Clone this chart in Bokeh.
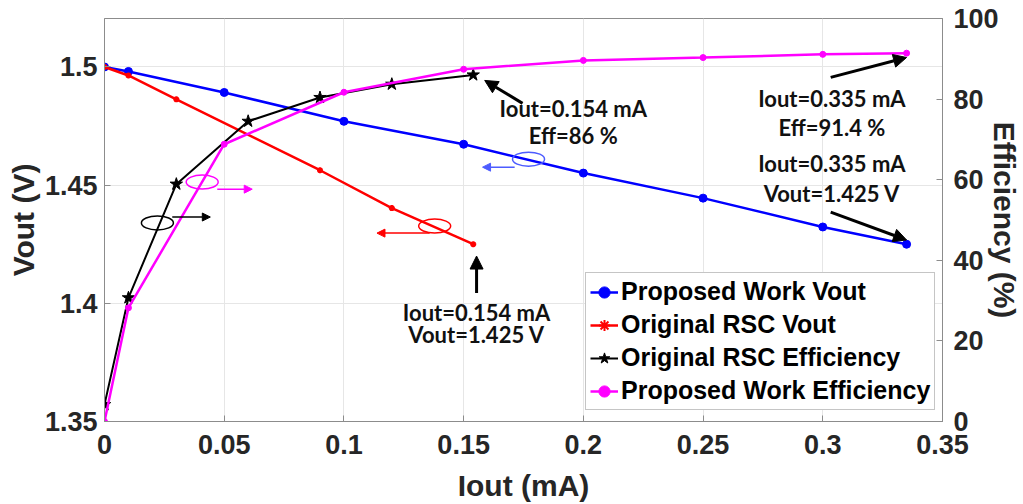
from bokeh.plotting import figure
from bokeh.models import Range1d, LinearAxis, FixedTicker, Arrow, NormalHead, Label
from bokeh.embed import file_html
from bokeh.resources import INLINE

# ---- data ----
iout_prop = [0, 0.01, 0.05, 0.1, 0.15, 0.2, 0.25, 0.3, 0.335]
vout_prop = [1.5, 1.4981, 1.4892, 1.4770, 1.4673, 1.4551, 1.4445, 1.4323, 1.425]
eff_prop = [0.0, 28.2, 68.8, 81.7, 87.4, 89.6, 90.3, 91.1, 91.4]

iout_orig_v = [0, 0.01, 0.03, 0.09, 0.12, 0.154]
vout_orig = [1.5, 1.4964, 1.4863, 1.4563, 1.4403, 1.425]

iout_orig_e = [0, 0.01, 0.03, 0.06, 0.09, 0.12, 0.154]
eff_orig = [4.2, 30.7, 58.9, 74.5, 80.4, 83.7, 86.0]

x_ticks = [0, 0.05, 0.1, 0.15, 0.2, 0.25, 0.3, 0.35]
x_tick_labels = ["0", "0.05", "0.1", "0.15", "0.2", "0.25", "0.3", "0.35"]
v_ticks = [1.35, 1.4, 1.45, 1.5]
v_tick_labels = ["1.35", "1.4", "1.45", "1.5"]
e_ticks = [0, 20, 40, 60, 80, 100]

labels = ["Proposed Work Vout", "Original RSC Vout",
          "Original RSC Efficiency", "Proposed Work Efficiency"]

AXIS_FONT = "Liberation Sans"
ANN_FONT = "Lato"
GREY = "#8c8c8c"
TXT = "#262626"

p = figure(width=1023, height=504, output_backend="svg", toolbar_location=None,
           x_range=Range1d(0, 0.35), y_range=Range1d(1.35, 1.5205),
           min_border_left=104, min_border_right=80, min_border_top=18, min_border_bottom=82)
p.extra_y_ranges = {"eff": Range1d(0, 100)}

p.outline_line_color = GREY
p.outline_line_width = 1
p.background_fill_color = "white"

def style_axis(ax, ticks, overrides=None):
    ax.ticker = FixedTicker(ticks=ticks)
    if overrides:
        ax.major_label_overrides = overrides
    ax.minor_tick_line_color = None
    ax.major_tick_in = 6
    ax.major_tick_out = 0
    ax.axis_line_color = GREY
    ax.major_tick_line_color = GREY
    ax.major_label_text_font = AXIS_FONT
    ax.major_label_text_font_style = "bold"
    ax.major_label_text_font_size = "27px"
    ax.major_label_text_color = TXT
    ax.axis_label_text_font = AXIS_FONT
    ax.axis_label_text_font_style = "bold"
    ax.axis_label_text_font_size = "30px"
    ax.axis_label_text_color = TXT

xa = p.xaxis[0]
style_axis(xa, x_ticks, {t: l for t, l in zip(x_ticks, x_tick_labels)})
xa.axis_label = "Iout (mA)"
xa.major_label_standoff = 13
xa.axis_label_standoff = 12

ya = p.yaxis[0]
style_axis(ya, v_ticks, {t: l for t, l in zip(v_ticks, v_tick_labels)})
ya.axis_label = "Vout (V)"
ya.major_label_standoff = 7
ya.axis_label_standoff = 2

ra = LinearAxis(y_range_name="eff")
style_axis(ra, e_ticks)
ra.major_label_standoff = 11
ra.axis_label = "Efficiency (%)"
ra.axis_label_standoff = -14
if "axis_label_orientation" in ra.properties():
    ra.axis_label_orientation = "vertical"
p.add_layout(ra, "right")

p.xgrid.ticker = FixedTicker(ticks=x_ticks)
p.ygrid.ticker = FixedTicker(ticks=v_ticks)
for g in (p.xgrid[0], p.ygrid[0]):
    g.grid_line_color = "#e6e6e6"
    g.grid_line_width = 1

# ---- series ----
p.line(iout_prop, vout_prop, line_color="#0000ff", line_width=2.5, legend_label=labels[0])
p.scatter(iout_prop, vout_prop, marker="circle", size=8, fill_color="#0000ff",
          line_color="#0000ff", legend_label=labels[0])

p.line(iout_orig_v, vout_orig, line_color="#ff0000", line_width=2.5, legend_label=labels[1])
p.scatter(iout_orig_v, vout_orig, marker="asterisk", size=6, line_width=2,
          line_color="#ff0000", legend_label=labels[1])

p.line(iout_orig_e, eff_orig, line_color="black", line_width=2, y_range_name="eff",
       legend_label=labels[2])
p.scatter(iout_orig_e, eff_orig, marker="star", size=13, fill_color="black",
          line_color="black", y_range_name="eff", legend_label=labels[2])

p.line(iout_prop, eff_prop, line_color="#ff00ff", line_width=2.5, y_range_name="eff",
       legend_label=labels[3])
p.scatter(iout_prop, eff_prop, marker="circle", size=6, fill_color="#ff00ff",
          line_color="#ff00ff", y_range_name="eff", legend_label=labels[3])

# ---- axis-indicator ellipses & arrows ----
ell_x = [0.0221, 0.0408, 0.1771, 0.1379]
ell_y = [1.434, 1.4513, 1.4610, 1.4327]
ell_c = ["black", "#ff00ff", "#4d5cff", "#ff0000"]
p.ellipse(ell_x, ell_y, width=32, height=14, width_units="screen", height_units="screen",
          fill_alpha=0, line_color=ell_c, line_width=1.5)

ind = [
    (0.0283, 1.4365, 0.0442, 1.4365, "black"),
    (0.0471, 1.4483, 0.0617, 1.4483, "#ff00ff"),
    (0.1713, 1.4576, 0.1579, 1.4576, "#4d5cff"),
    (0.1358, 1.4297, 0.1138, 1.4297, "#ff0000"),
]
for xs, ys, xe, ye, c in ind:
    p.add_layout(Arrow(end=NormalHead(size=8, fill_color=c, line_color=c),
                       x_start=xs, y_start=ys, x_end=xe, y_end=ye,
                       line_color=c, line_width=1.5))

# ---- annotation arrows ----
ann = [
    (0.1746, 1.4846, 0.1588, 1.4943),
    (0.3033, 1.4956, 0.3350, 1.5040),
    (0.3033, 1.4386, 0.3350, 1.4268),
    (0.1554, 1.4044, 0.1554, 1.4200),
]
for xs, ys, xe, ye in ann:
    p.add_layout(Arrow(end=NormalHead(size=13, fill_color="black", line_color="black"),
                       x_start=xs, y_start=ys, x_end=xe, y_end=ye,
                       line_color="black", line_width=3))

texts = [
    (0.1958, 1.4825, "Iout=0.154 mA"),
    (0.1958, 1.4711, "Eff=86 %"),
    (0.3038, 1.4867, "Iout=0.335 mA"),
    (0.3038, 1.4745, "Eff=91.4 %"),
    (0.3038, 1.4593, "Iout=0.335 mA"),
    (0.3038, 1.4466, "Vout=1.425 V"),
    (0.1554, 1.3960, "Iout=0.154 mA"),
    (0.1554, 1.3867, "Vout=1.425 V"),
]
for tx, ty, tt in texts:
    p.add_layout(Label(x=tx, y=ty, text=tt, text_align="center", text_baseline="middle",
                       text_font=ANN_FONT, text_font_style="bold",
                       text_font_size="22px", text_color="#111111"))

# ---- legend ----
lg = p.legend[0]
lg.location = (481, 11)
lg.label_text_font = AXIS_FONT
lg.label_text_font_style = "bold"
lg.label_text_font_size = "25px"
lg.label_text_color = "black"
lg.glyph_width = 28
lg.glyph_height = 28
lg.label_height = 28
lg.label_standoff = 3
lg.spacing = 4
lg.padding = 4
lg.margin = 0
lg.border_line_color = GREY
lg.border_line_width = 1
lg.background_fill_alpha = 1

open("out.html", "w").write(file_html(p, INLINE))
